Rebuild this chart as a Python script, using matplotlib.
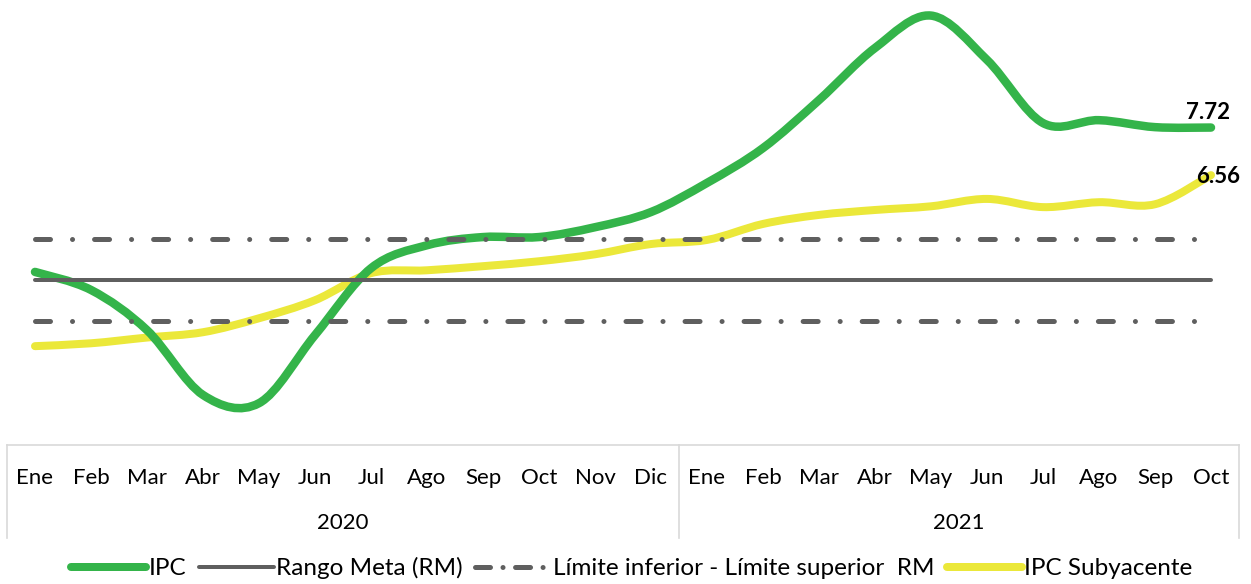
import matplotlib.pyplot as plt
import numpy as np
from matplotlib.path import Path
from matplotlib.patches import PathPatch
from matplotlib.lines import Line2D

plt.rcParams['font.family'] = ['Lato', 'DejaVu Sans']

meses = ['Ene', 'Feb', 'Mar', 'Abr', 'May', 'Jun', 'Jul', 'Ago', 'Sep', 'Oct', 'Nov', 'Dic',
         'Ene', 'Feb', 'Mar', 'Abr', 'May', 'Jun', 'Jul', 'Ago', 'Sep', 'Oct']
anios = ['2020', '2021']
ipc = [4.2, 3.76, 2.78, 1.2, 1.0, 2.66, 4.29, 4.85, 5.05, 5.05, 5.29, 5.66,
       6.37, 7.22, 8.39, 9.66, 10.45, 9.37, 7.83, 7.9, 7.73, 7.72]
subyacente = [2.39, 2.46, 2.6, 2.73, 3.07, 3.51, 4.17, 4.24, 4.34, 4.46, 4.63, 4.88,
              4.98, 5.37, 5.59, 5.71, 5.8, 5.98, 5.78, 5.9, 5.85, 6.56]
meta = 4.0
lim_inf = 3.0
lim_sup = 5.0

verde = '#34B44A'
amarillo = '#EBE83A'
gris = '#5F5F5F'


def curva_suave(x, y):
    # bezier tipo excel (linea suavizada)
    p = np.column_stack([x, y]).astype(float)
    verts = [p[0]]
    codes = [Path.MOVETO]
    n = len(p)
    for i in range(n - 1):
        p0 = p[i - 1] if i > 0 else p[i]
        p3 = p[i + 2] if i + 2 < n else p[i + 1]
        c1 = p[i] + (p[i + 1] - p0) / 6
        c2 = p[i + 1] - (p3 - p[i]) / 6
        verts += [c1, c2, p[i + 1]]
        codes += [Path.CURVE4] * 3
    return Path(verts, codes)


fig = plt.figure(figsize=(12.51, 5.84), dpi=100)
ax = fig.add_axes([7 / 1251, 139 / 584, 1232 / 1251, 445 / 584])
x = np.arange(len(meses))
ax.set_xlim(-0.5, len(meses) - 0.5)
ax.set_ylim(-0.02, 10.83)

lw_px = 0.72
ax.plot(x, [lim_sup] * len(x), color=gris, lw=5 * lw_px, dashes=(3, 4.4, 0.01, 4.4),
        dash_capstyle='round')
ax.plot(x, [lim_inf] * len(x), color=gris, lw=5 * lw_px, dashes=(3, 4.4, 0.01, 4.4),
        dash_capstyle='round')
ax.plot(x, [meta] * len(x), color=gris, lw=4 * lw_px, solid_capstyle='round')

ax.add_patch(PathPatch(curva_suave(x, subyacente), fill=False, ec=amarillo, lw=8 * lw_px,
                       capstyle='round', joinstyle='round', clip_on=False))
ax.add_patch(PathPatch(curva_suave(x, ipc), fill=False, ec=verde, lw=8.5 * lw_px,
                       capstyle='round', joinstyle='round', clip_on=False))

ax.text(x[-1] - 0.05, ipc[-1] + 0.36, f'{ipc[-1]:.2f}', fontsize=16, fontweight='bold',
        ha='center', va='center')
ax.text(x[-1] + 0.13, subyacente[-1] - 0.04, f'{subyacente[-1]:.2f}', fontsize=16,
        fontweight='bold', ha='center', va='center')

for s in ['top', 'right', 'left']:
    ax.spines[s].set_visible(False)
ax.spines['bottom'].set_color('#D9D9D9')
ax.spines['bottom'].set_linewidth(1.2)
ax.set_yticks([])
ax.set_xticks([])

# tabla de categorias
tr = ax.get_xaxis_transform()
for xv in [-0.5, 11.5, len(meses) - 0.5]:
    ax.add_line(Line2D([xv, xv], [0, -93 / 445], transform=tr, color='#D9D9D9', lw=1.2,
                       clip_on=False))
for i, m in enumerate(meses):
    ax.text(i, -33 / 445, m, transform=tr, ha='center', va='center', fontsize=16)
ax.text(5.5, -78 / 445, anios[0], transform=tr, ha='center', va='center', fontsize=16)
ax.text(16.5, -78 / 445, anios[1], transform=tr, ha='center', va='center', fontsize=16)

handles = [
    Line2D([], [], color=verde, lw=8 * lw_px, solid_capstyle='round'),
    Line2D([], [], color=gris, lw=4 * lw_px, solid_capstyle='round'),
    Line2D([], [], color=gris, lw=5 * lw_px, dashes=(3, 2.5, 0.01, 2.5), dash_capstyle='round'),
    Line2D([], [], color=amarillo, lw=8 * lw_px, solid_capstyle='round'),
]
labels = ['IPC', 'Rango Meta (RM)', 'Límite inferior - Límite superior  RM', 'IPC Subyacente']
fig.legend(handles, labels, loc='center', bbox_to_anchor=(0.505, 16 / 584), ncol=4,
           frameon=False, fontsize=17.5, handlelength=3.1, handletextpad=0.1,
           columnspacing=0.5)

fig.savefig('out.png', dpi=100)
